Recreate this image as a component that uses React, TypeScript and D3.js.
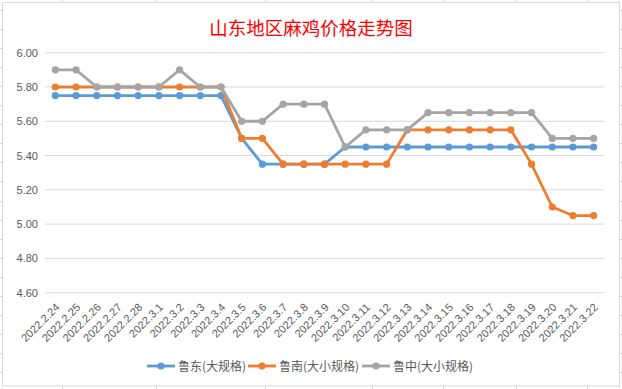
import React from "react";
import * as d3 from "d3";

const categories = [
  "2022.2.24", "2022.2.25", "2022.2.26", "2022.2.27", "2022.2.28",
  "2022.3.1", "2022.3.2", "2022.3.3", "2022.3.4", "2022.3.5", "2022.3.6",
  "2022.3.7", "2022.3.8", "2022.3.9", "2022.3.10", "2022.3.11", "2022.3.12",
  "2022.3.13", "2022.3.14", "2022.3.15", "2022.3.16", "2022.3.17", "2022.3.18",
  "2022.3.19", "2022.3.20", "2022.3.21", "2022.3.22",
];

const seriesNames = ["鲁东(大规格)", "鲁南(大小规格)", "鲁中(大小规格)"];

const ludong = [
  5.75, 5.75, 5.75, 5.75, 5.75, 5.75, 5.75, 5.75, 5.75, 5.5, 5.35, 5.35, 5.35,
  5.35, 5.45, 5.45, 5.45, 5.45, 5.45, 5.45, 5.45, 5.45, 5.45, 5.45, 5.45, 5.45, 5.45,
];
const lunan = [
  5.8, 5.8, 5.8, 5.8, 5.8, 5.8, 5.8, 5.8, 5.8, 5.5, 5.5, 5.35, 5.35, 5.35,
  5.35, 5.35, 5.35, 5.55, 5.55, 5.55, 5.55, 5.55, 5.55, 5.35, 5.1, 5.05, 5.05,
];
const luzhong = [
  5.9, 5.9, 5.8, 5.8, 5.8, 5.8, 5.9, 5.8, 5.8, 5.6, 5.6, 5.7, 5.7, 5.7,
  5.45, 5.55, 5.55, 5.55, 5.65, 5.65, 5.65, 5.65, 5.65, 5.65, 5.5, 5.5, 5.5,
];

const yTicks = [4.6, 4.8, 5.0, 5.2, 5.4, 5.6, 5.8, 6.0];
const title = "山东地区麻鸡价格走势图";

const colors = ["#5B9BD5", "#ED7D31", "#A5A5A5"];

const W = 622;
const H = 389;

// spreadsheet decoration
const sheetCols = [62, 156, 265, 372, 443, 516, 587];
const sheetRows = d3.range(20).map((k) => 10 + 19.05 * k);

export default function App() {
  const x = d3
    .scaleBand<string>()
    .domain(categories)
    .range([45, 604])
    .paddingInner(0)
    .paddingOuter(0);
  const y = d3.scaleLinear().domain([4.6, 6.0]).range([292.7, 52.7]);
  const cx = (c: string) => (x(c) as number) + x.bandwidth() / 2;

  const data = [ludong, lunan, luzhong];
  const line = d3
    .line<number>()
    .x((_, i) => cx(categories[i]))
    .y((d) => y(d));

  const legendItems = [
    { lx: 147, tx: 178 },
    { lx: 248, tx: 279 },
    { lx: 362, tx: 393 },
  ];

  return (
    <svg
      width={W}
      height={H}
      style={{ position: "absolute", left: 0, top: 0, background: "#fff" }}
      fontFamily="'Liberation Sans', Arial, sans-serif"
    >
      {/* spreadsheet gridlines */}
      <g stroke="#d2d4de" strokeWidth={1}>
        {sheetCols.map((c) => (
          <line key={"c" + c} x1={c + 0.5} x2={c + 0.5} y1={0} y2={H} />
        ))}
        {sheetRows.map((r) => (
          <line key={"r" + r} x1={0} x2={W} y1={Math.round(r) + 0.5} y2={Math.round(r) + 0.5} />
        ))}
      </g>
      <rect x={2.5} y={2.5} width={617} height={383.5} fill="#fff" stroke="#d9d9d9" strokeWidth={1} />

      <text
        x={311}
        y={35}
        textAnchor="middle"
        fill="#FF0000"
        fontSize={18.5}
        fontFamily="'Noto Sans CJK SC', sans-serif"
      >
        {title}
      </text>

      {/* gridlines + y labels */}
      {yTicks.map((t) => (
        <g key={t}>
          <line x1={45} x2={604} y1={y(t)} y2={y(t)} stroke="#d9d9d9" strokeWidth={1} />
          <text x={38} y={y(t) + 4} textAnchor="end" fontSize={11} fill="#595959">
            {t.toFixed(2)}
          </text>
        </g>
      ))}

      {/* x labels */}
      {categories.map((c) => (
        <text
          key={c}
          transform={`translate(${cx(c) + 5},${308}) rotate(-45)`}
          textAnchor="end"
          fontSize={11}
          fill="#595959"
        >
          {c}
        </text>
      ))}

      {/* series */}
      {data.map((s, si) => (
        <g key={si}>
          <path d={line(s) || ""} fill="none" stroke={colors[si]} strokeWidth={2.8} strokeLinejoin="round" />
          {s.map((v, i) => (
            <circle key={i} cx={cx(categories[i])} cy={y(v)} r={3.6} fill={colors[si]} />
          ))}
        </g>
      ))}

      {/* legend */}
      {seriesNames.map((n, i) => (
        <g key={n}>
          <line
            x1={legendItems[i].lx}
            x2={legendItems[i].lx + 28}
            y1={366}
            y2={366}
            stroke={colors[i]}
            strokeWidth={2.8}
          />
          <circle cx={legendItems[i].lx + 14} cy={366} r={3.6} fill={colors[i]} />
          <text
            x={legendItems[i].tx}
            y={370.5}
            fontSize={12}
            fill="#595959"
            fontFamily="'Noto Sans CJK SC', sans-serif"
          >
            {n}
          </text>
        </g>
      ))}
    </svg>
  );
}
